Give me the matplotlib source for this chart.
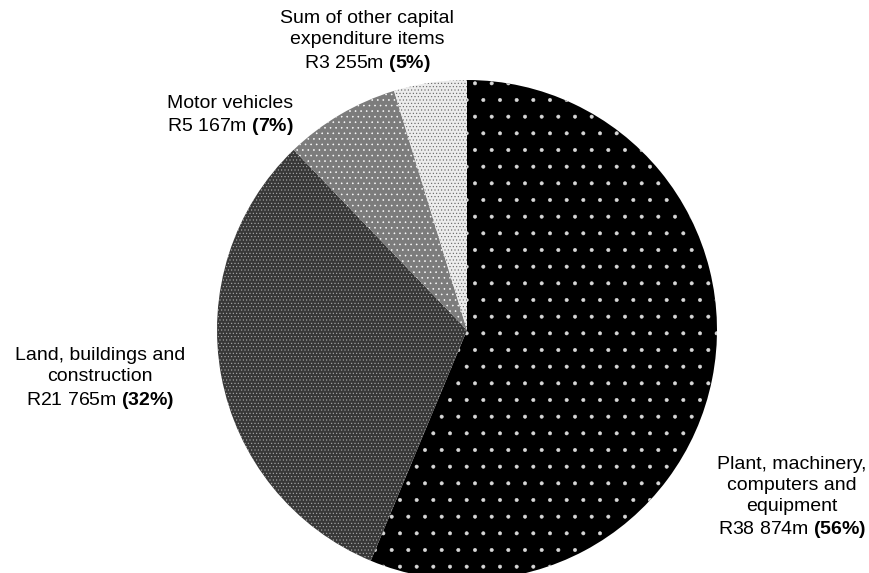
import matplotlib
matplotlib.use('Agg')
import matplotlib.pyplot as plt

plt.rcParams['font.family'] = ['Liberation Sans', 'DejaVu Sans']
plt.rcParams['mathtext.fontset'] = 'custom'
plt.rcParams['mathtext.rm'] = 'Liberation Sans'
plt.rcParams['mathtext.bf'] = 'Liberation Sans:bold'
plt.rcParams['hatch.linewidth'] = 0.4

# capital expenditure, R million
categories = ['Plant, machinery,\ncomputers and\nequipment',
              'Land, buildings and\nconstruction',
              'Motor vehicles',
              'Sum of other capital\nexpenditure items']
values = [38874, 21765, 5167, 3255]
amounts = ['R38 874m', 'R21 765m', 'R5 167m', 'R3 255m']
percents = ['56%', '32%', '7%', '5%']

faces = ['#000000', '#383838', '#7c7c7c', '#ececec']
hatch_cols = ['#d8d8d8', '#b0b0b0', '#ffffff', '#606060']
hatches = ['.', '.....', '...', '.....']

W, H = 870, 573
fig = plt.figure(figsize=(W / 100, H / 100), dpi=100)
ax = fig.add_axes([0, 0, 1, 1])

# pie centre / radius in pixels from the top-left corner
cx, cy, r = 467, 330, 250
wedges, _ = ax.pie(values, startangle=90, counterclock=False,
                   center=(cx, H - cy), radius=r, frame=True)
for w, fc, hc, h in zip(wedges, faces, hatch_cols, hatches):
    w.set_facecolor(fc)
    w.set_edgecolor(hc)
    w.set_linewidth(0)
    w.set_hatch(h)

ax.set_xlim(0, W)
ax.set_ylim(0, H)
ax.axis('off')

# label positions in pixels from the top-left: (x, y, ha)
spots = [(792, 498, 'center'), (100, 379, 'center'),
         (167, 116, 'left'), (367, 42, 'center')]
for cat, amt, pct, (x, y, ha) in zip(categories, amounts, percents, spots):
    pct_tex = r'$\bf{(' + pct.replace('%', r'\%') + ')}$'
    label = cat + '\n' + amt + ' ' + pct_tex
    ax.text(x, H - y, label, ha=ha, va='center', multialignment=ha,
            fontsize=14, linespacing=1.3, color='black')

fig.savefig('out.png', dpi=100)
